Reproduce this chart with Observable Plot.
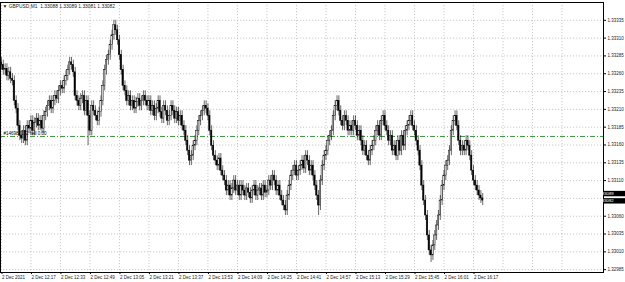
<!DOCTYPE html>
<html><head><meta charset="utf-8">
<script src="https://cdn.jsdelivr.net/npm/d3@7"></script>
<script src="https://cdn.jsdelivr.net/npm/@observablehq/plot@0.6"></script>
<style>body{margin:0;background:#fff;font-family:"Liberation Sans",Arial,sans-serif}</style>
</head><body><div id="chart"></div>
<script>
const chartTitle = "GBPUSD,M1  1.33088 1.33089 1.33081 1.33082";
const firstBar = "2021-12-02T12:01:00Z";
const open = [
1.33276,1.33272,1.33265,1.33267,1.33257,1.33262,1.33253,1.33250,1.33222,1.33211,
1.33187,1.33173,1.33169,1.33180,1.33166,1.33187,1.33183,1.33194,1.33180,1.33191,
1.33197,1.33187,1.33194,1.33183,1.33201,1.33206,1.33215,1.33222,1.33211,1.33222,
1.33229,1.33225,1.33236,1.33243,1.33239,1.33250,1.33257,1.33265,1.33276,1.33272,
1.33262,1.33229,1.33222,1.33215,1.33225,1.33229,1.33208,1.33222,1.33201,1.33180,
1.33215,1.33208,1.33201,1.33194,1.33206,1.33222,1.33243,1.33265,1.33279,1.33286,
1.33300,1.33314,1.33328,1.33321,1.33307,1.33286,1.33265,1.33243,1.33236,1.33222,
1.33229,1.33215,1.33222,1.33211,1.33220,1.33225,1.33215,1.33222,1.33229,1.33222,
1.33215,1.33222,1.33208,1.33215,1.33201,1.33211,1.33222,1.33206,1.33197,1.33215,
1.33208,1.33194,1.33201,1.33215,1.33208,1.33197,1.33206,1.33194,1.33201,1.33187,
1.33180,1.33166,1.33152,1.33138,1.33145,1.33159,1.33166,1.33180,1.33194,1.33201,
1.33208,1.33215,1.33211,1.33201,1.33180,1.33159,1.33145,1.33138,1.33131,1.33141,
1.33124,1.33117,1.33110,1.33096,1.33103,1.33089,1.33099,1.33110,1.33096,1.33103,
1.33089,1.33103,1.33096,1.33089,1.33099,1.33093,1.33085,1.33096,1.33103,1.33089,
1.33096,1.33099,1.33089,1.33103,1.33093,1.33096,1.33110,1.33103,1.33117,1.33110,
1.33096,1.33103,1.33089,1.33082,1.33075,1.33068,1.33089,1.33103,1.33117,1.33124,
1.33131,1.33117,1.33124,1.33131,1.33138,1.33127,1.33145,1.33138,1.33124,1.33131,
1.33117,1.33103,1.33089,1.33075,1.33110,1.33131,1.33145,1.33152,1.33166,1.33173,
1.33180,1.33201,1.33215,1.33222,1.33208,1.33194,1.33187,1.33201,1.33194,1.33180,
1.33187,1.33180,1.33194,1.33187,1.33173,1.33180,1.33166,1.33152,1.33159,1.33145,
1.33138,1.33152,1.33159,1.33166,1.33180,1.33187,1.33173,1.33194,1.33201,1.33187,
1.33180,1.33166,1.33173,1.33152,1.33159,1.33145,1.33166,1.33152,1.33173,1.33159,
1.33180,1.33187,1.33194,1.33201,1.33187,1.33180,1.33166,1.33152,1.33131,1.33103,
1.33082,1.33061,1.33033,1.33012,1.33005,1.33019,1.33033,1.33047,1.33061,1.33082,
1.33103,1.33117,1.33131,1.33138,1.33152,1.33180,1.33194,1.33201,1.33187,1.33166,
1.33152,1.33159,1.33152,1.33166,1.33159,1.33145,1.33124,1.33110,1.33103,1.33096,
1.33089,1.33085];
const close = [
1.33272,1.33265,1.33267,1.33257,1.33262,1.33253,1.33250,1.33222,1.33211,1.33187,
1.33173,1.33169,1.33180,1.33166,1.33187,1.33183,1.33194,1.33180,1.33191,1.33197,
1.33187,1.33194,1.33183,1.33201,1.33206,1.33215,1.33222,1.33211,1.33222,1.33229,
1.33225,1.33236,1.33243,1.33239,1.33250,1.33257,1.33265,1.33276,1.33272,1.33262,
1.33229,1.33222,1.33215,1.33225,1.33229,1.33208,1.33222,1.33201,1.33180,1.33215,
1.33208,1.33201,1.33194,1.33206,1.33222,1.33243,1.33265,1.33279,1.33286,1.33300,
1.33314,1.33328,1.33321,1.33307,1.33286,1.33265,1.33243,1.33236,1.33222,1.33229,
1.33215,1.33222,1.33211,1.33220,1.33225,1.33215,1.33222,1.33229,1.33222,1.33215,
1.33222,1.33208,1.33215,1.33201,1.33211,1.33222,1.33206,1.33197,1.33215,1.33208,
1.33194,1.33201,1.33215,1.33208,1.33197,1.33206,1.33194,1.33201,1.33187,1.33180,
1.33166,1.33152,1.33138,1.33145,1.33159,1.33166,1.33180,1.33194,1.33201,1.33208,
1.33215,1.33211,1.33201,1.33180,1.33159,1.33145,1.33138,1.33131,1.33141,1.33124,
1.33117,1.33110,1.33096,1.33103,1.33089,1.33099,1.33110,1.33096,1.33103,1.33089,
1.33103,1.33096,1.33089,1.33099,1.33093,1.33085,1.33096,1.33103,1.33089,1.33096,
1.33099,1.33089,1.33103,1.33093,1.33096,1.33110,1.33103,1.33117,1.33110,1.33096,
1.33103,1.33089,1.33082,1.33075,1.33068,1.33089,1.33103,1.33117,1.33124,1.33131,
1.33117,1.33124,1.33131,1.33138,1.33127,1.33145,1.33138,1.33124,1.33131,1.33117,
1.33103,1.33089,1.33075,1.33110,1.33131,1.33145,1.33152,1.33166,1.33173,1.33180,
1.33201,1.33215,1.33222,1.33208,1.33194,1.33187,1.33201,1.33194,1.33180,1.33187,
1.33180,1.33194,1.33187,1.33173,1.33180,1.33166,1.33152,1.33159,1.33145,1.33138,
1.33152,1.33159,1.33166,1.33180,1.33187,1.33173,1.33194,1.33201,1.33187,1.33180,
1.33166,1.33173,1.33152,1.33159,1.33145,1.33166,1.33152,1.33173,1.33159,1.33180,
1.33187,1.33194,1.33201,1.33187,1.33180,1.33166,1.33152,1.33131,1.33103,1.33082,
1.33061,1.33033,1.33012,1.33005,1.33019,1.33033,1.33047,1.33061,1.33082,1.33103,
1.33117,1.33131,1.33138,1.33152,1.33180,1.33194,1.33201,1.33187,1.33166,1.33152,
1.33159,1.33152,1.33166,1.33159,1.33145,1.33124,1.33110,1.33103,1.33096,1.33089,
1.33085,1.33082];
const high = [
1.33283,1.33279,1.33274,1.33274,1.33269,1.33269,1.33260,1.33257,1.33229,1.33218,
1.33194,1.33180,1.33187,1.33187,1.33194,1.33194,1.33201,1.33201,1.33198,1.33204,
1.33204,1.33201,1.33201,1.33208,1.33213,1.33222,1.33229,1.33229,1.33229,1.33236,
1.33236,1.33243,1.33250,1.33250,1.33257,1.33264,1.33272,1.33283,1.33283,1.33279,
1.33269,1.33236,1.33229,1.33232,1.33236,1.33236,1.33229,1.33229,1.33208,1.33222,
1.33222,1.33215,1.33208,1.33213,1.33229,1.33250,1.33272,1.33286,1.33293,1.33307,
1.33321,1.33335,1.33335,1.33328,1.33314,1.33293,1.33272,1.33250,1.33243,1.33236,
1.33236,1.33229,1.33229,1.33227,1.33232,1.33232,1.33229,1.33236,1.33236,1.33229,
1.33229,1.33229,1.33222,1.33222,1.33218,1.33229,1.33229,1.33213,1.33222,1.33222,
1.33215,1.33208,1.33222,1.33222,1.33215,1.33213,1.33213,1.33208,1.33208,1.33194,
1.33187,1.33173,1.33159,1.33152,1.33166,1.33173,1.33187,1.33201,1.33208,1.33215,
1.33222,1.33222,1.33218,1.33208,1.33187,1.33166,1.33152,1.33145,1.33148,1.33148,
1.33131,1.33124,1.33117,1.33110,1.33110,1.33106,1.33117,1.33117,1.33110,1.33110,
1.33110,1.33110,1.33103,1.33106,1.33106,1.33100,1.33103,1.33110,1.33110,1.33103,
1.33106,1.33106,1.33110,1.33110,1.33103,1.33117,1.33117,1.33124,1.33124,1.33117,
1.33110,1.33110,1.33096,1.33089,1.33082,1.33096,1.33110,1.33124,1.33131,1.33138,
1.33138,1.33131,1.33138,1.33145,1.33145,1.33152,1.33152,1.33145,1.33138,1.33138,
1.33124,1.33110,1.33096,1.33117,1.33138,1.33152,1.33159,1.33173,1.33180,1.33187,
1.33208,1.33222,1.33229,1.33229,1.33215,1.33201,1.33208,1.33208,1.33201,1.33194,
1.33194,1.33201,1.33201,1.33194,1.33187,1.33187,1.33173,1.33166,1.33166,1.33152,
1.33159,1.33166,1.33173,1.33187,1.33194,1.33194,1.33201,1.33208,1.33208,1.33194,
1.33187,1.33180,1.33180,1.33166,1.33166,1.33173,1.33173,1.33180,1.33180,1.33187,
1.33194,1.33201,1.33208,1.33208,1.33194,1.33187,1.33173,1.33159,1.33138,1.33110,
1.33089,1.33068,1.33040,1.33019,1.33026,1.33040,1.33054,1.33068,1.33089,1.33110,
1.33124,1.33138,1.33145,1.33159,1.33187,1.33201,1.33208,1.33208,1.33194,1.33173,
1.33166,1.33166,1.33173,1.33173,1.33166,1.33152,1.33131,1.33117,1.33110,1.33103,
1.33096,1.33092];
const low = [
1.33265,1.33258,1.33258,1.33250,1.33250,1.33246,1.33243,1.33215,1.33204,1.33180,
1.33166,1.33162,1.33162,1.33159,1.33159,1.33176,1.33176,1.33173,1.33173,1.33184,
1.33180,1.33180,1.33176,1.33176,1.33194,1.33199,1.33208,1.33204,1.33204,1.33215,
1.33218,1.33218,1.33229,1.33232,1.33232,1.33243,1.33250,1.33258,1.33265,1.33255,
1.33222,1.33215,1.33208,1.33208,1.33218,1.33201,1.33201,1.33159,1.33173,1.33173,
1.33201,1.33194,1.33187,1.33187,1.33199,1.33215,1.33236,1.33258,1.33272,1.33279,
1.33293,1.33307,1.33314,1.33300,1.33279,1.33258,1.33236,1.33229,1.33215,1.33215,
1.33208,1.33208,1.33204,1.33204,1.33213,1.33208,1.33208,1.33215,1.33215,1.33208,
1.33208,1.33201,1.33201,1.33194,1.33194,1.33204,1.33199,1.33190,1.33190,1.33201,
1.33187,1.33187,1.33194,1.33201,1.33190,1.33190,1.33187,1.33187,1.33180,1.33173,
1.33159,1.33145,1.33131,1.33131,1.33138,1.33152,1.33159,1.33173,1.33187,1.33194,
1.33201,1.33204,1.33194,1.33173,1.33152,1.33138,1.33131,1.33124,1.33124,1.33117,
1.33110,1.33103,1.33089,1.33089,1.33082,1.33082,1.33092,1.33089,1.33089,1.33082,
1.33082,1.33089,1.33082,1.33082,1.33086,1.33078,1.33078,1.33089,1.33082,1.33082,
1.33089,1.33082,1.33082,1.33086,1.33086,1.33089,1.33096,1.33096,1.33103,1.33089,
1.33089,1.33082,1.33075,1.33068,1.33061,1.33061,1.33082,1.33096,1.33110,1.33117,
1.33110,1.33110,1.33117,1.33124,1.33120,1.33120,1.33131,1.33117,1.33117,1.33110,
1.33096,1.33082,1.33061,1.33068,1.33103,1.33124,1.33138,1.33145,1.33159,1.33166,
1.33173,1.33194,1.33208,1.33201,1.33187,1.33180,1.33180,1.33187,1.33173,1.33173,
1.33173,1.33173,1.33180,1.33166,1.33166,1.33159,1.33145,1.33145,1.33138,1.33131,
1.33131,1.33145,1.33152,1.33159,1.33173,1.33166,1.33166,1.33187,1.33180,1.33173,
1.33159,1.33159,1.33145,1.33145,1.33138,1.33138,1.33145,1.33145,1.33152,1.33152,
1.33173,1.33180,1.33187,1.33180,1.33173,1.33159,1.33145,1.33124,1.33096,1.33075,
1.33054,1.33026,1.33005,1.32995,1.32998,1.33012,1.33026,1.33040,1.33054,1.33075,
1.33096,1.33110,1.33124,1.33131,1.33145,1.33173,1.33187,1.33180,1.33159,1.33145,
1.33145,1.33145,1.33145,1.33152,1.33138,1.33117,1.33103,1.33096,1.33089,1.33082,
1.33078,1.33075];
const priceTicks = [1.32985,1.33010,1.33035,1.33060,1.33085,1.33110,1.33135,1.33160,1.33185,1.33210,1.33235,1.33260,1.33285,1.33310,1.33335];
const hiddenPriceTick = 1.33085; // covered by the current-price labels
const timeTicks = ["12:01","12:17","12:33","12:49","13:05","13:21","13:37","13:53","14:09","14:25","14:41","14:57","15:13","15:29","15:45","16:01","16:17"];
const timeTickLabels = ["2 Dec 2021","2 Dec 12:17","2 Dec 12:33","2 Dec 12:49","2 Dec 13:05","2 Dec 13:21","2 Dec 13:37","2 Dec 13:53","2 Dec 14:09","2 Dec 14:25","2 Dec 14:41","2 Dec 14:57","2 Dec 15:13","2 Dec 15:29","2 Dec 15:45","2 Dec 16:01","2 Dec 16:17"];
const extraGridTimes = ["16:33","16:49","17:05"];
const askPrice = 1.33089, bidPrice = 1.33082;
const orderPrice = 1.33172, orderLabel = "#146982172 sell 0.00";

const toDate = hm => new Date("2021-12-02T" + hm + ":00Z");
const t0 = new Date(firstBar).getTime();
const bars = close.map((c, i) => ({
  t: new Date(t0 + i * 60000), t1: new Date(t0 + i * 60000 - 22000), t2: new Date(t0 + i * 60000 + 22000),
  open: open[i], high: high[i], low: low[i], close: c
}));
const tickDates = timeTicks.map(toDate);
const labelOf = new Map(tickDates.map((d, i) => [+d, timeTickLabels[i]]));
const gridDates = tickDates.concat(extraGridTimes.map(toDate));
const labelledPriceTicks = priceTicks.filter(p => p !== hiddenPriceTick);
const FS = 4.5;

const plot = Plot.plot({
  width: 625, height: 282,
  marginLeft: 0, marginRight: 22, marginTop: 2, marginBottom: 10,
  style: {background: "#fff", fontFamily: "'Liberation Sans', Arial, sans-serif"},
  x: {type: "utc", domain: [new Date(t0 - 30000), new Date(t0 + 326.5 * 60000)]},
  y: {domain: [1.32981, 1.33360]},
  marks: [
    Plot.gridY(priceTicks, {stroke: "#bcbcbc", strokeOpacity: 1, strokeDasharray: "1.2,1.8", strokeWidth: 0.8}),
    Plot.gridX(gridDates, {stroke: "#bcbcbc", strokeOpacity: 1, strokeDasharray: "1.2,1.8", strokeWidth: 0.8}),
    Plot.ruleY([orderPrice], {stroke: "#3a8f3a", strokeWidth: 1, strokeDasharray: "5,2,1,2"}),
    Plot.ruleX(bars, {x: "t", y1: "low", y2: "high", stroke: "#000", strokeWidth: 0.6}),
    Plot.rect(bars, {x1: "t1", x2: "t2", y1: "open", y2: "close",
      fill: d => d.close >= d.open ? "#fff" : "#000", stroke: "#000", strokeWidth: 0.5}),
    Plot.text([orderLabel], {frameAnchor: "left", y: () => orderPrice, text: d => d, dx: 3, dy: -2.5, textAnchor: "start", fontSize: FS, fill: "#000"}),
    Plot.text(["\u25BC " + chartTitle], {frameAnchor: "top-left", text: d => d, dx: 2, dy: 2, textAnchor: "start", fontSize: 4.9, fill: "#222"}),
    Plot.axisY(labelledPriceTicks, {anchor: "right", tickSize: 2, tickPadding: 2, fontSize: FS, tickFormat: d => d.toFixed(5), stroke: "#000", fill: "#222"}),
    Plot.axisX(tickDates, {anchor: "bottom", tickSize: 2, tickPadding: 1, fontSize: FS, textAnchor: "start", dx: 0.5, tickFormat: d => labelOf.get(+d), stroke: "#000", fill: "#222"}),
    Plot.frame({stroke: "#000", strokeWidth: 1})
  ]
});

// current ask / bid labels on the price scale, placed with the plot's own y scale
const ys = plot.scale("y");
const svg = d3.select(plot.tagName === "svg" ? plot : plot.querySelector("svg"));
[[askPrice, -1.5], [bidPrice, 0.8]].forEach(([p, shift]) => {
  const y = ys.apply(p) + shift;
  svg.append("rect").attr("x", 604).attr("y", y - 2.7).attr("width", 21).attr("height", 5.4).attr("fill", "#000");
  svg.append("text").attr("x", 606).attr("y", y).attr("dy", "0.35em").attr("fill", "#fff")
    .attr("font-size", 4.2).attr("font-family", "'Liberation Sans', Arial, sans-serif").text(p.toFixed(5));
});
document.getElementById("chart").append(plot);
</script></body></html>
